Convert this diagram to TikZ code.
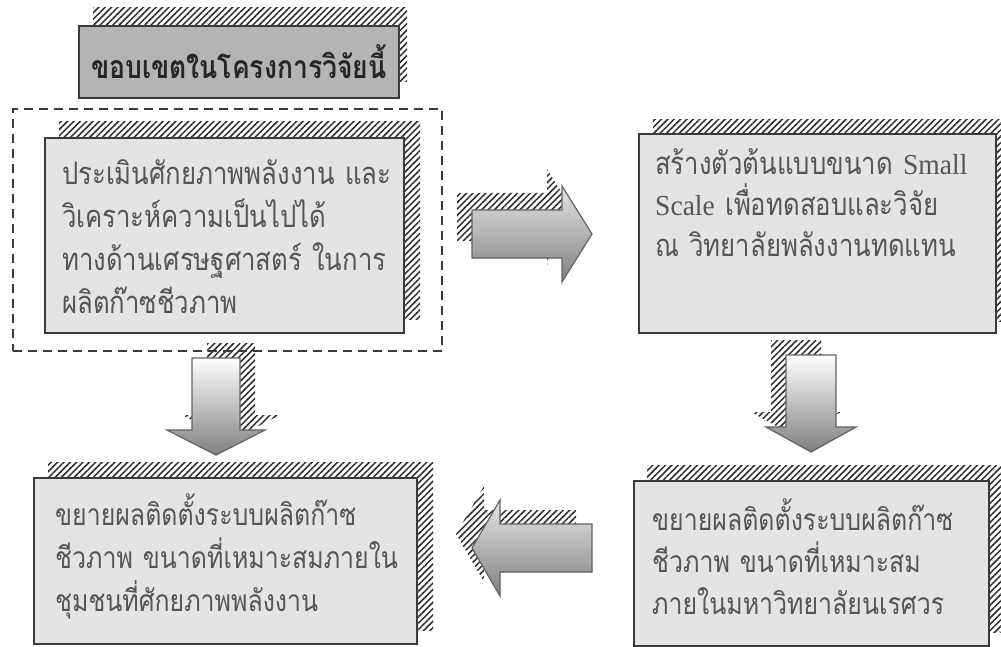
\documentclass[tikz,border=0pt]{standalone}
\usepackage{fontspec}
\newfontfamily\thaifont[Script=Thai,FakeStretch=0.83]{Loma}
\newfontfamily\latserif[FakeStretch=0.95]{Liberation Serif}
\usetikzlibrary{patterns.meta}
\pgfdeclarelayer{background}
\pgfsetlayers{background,main}
\definecolor{boxfill}{HTML}{E4E4E4}
\definecolor{titlefill}{HTML}{B4B4B4}
\definecolor{edge}{HTML}{3A3A3A}
\definecolor{txt}{HTML}{555555}
\definecolor{hatch}{HTML}{2A2A2A}
\begin{document}
\begin{tikzpicture}[x=1pt,y=-1pt,
  hatchfill/.style={pattern={Lines[angle=45,distance=4.5pt,line width=1.5pt]},pattern color=hatch},
  panel/.style={draw=edge,line width=2pt,fill=boxfill,anchor=north west,inner sep=0pt},
  paneltext/.style={anchor=base west,inner sep=0pt,text width=#1,align=left,text=txt},
  blockarrow/.style={draw=edge!80,line width=1.2pt,top color=black!10,bottom color=black!50},
  downarrow/.style={draw=edge!80,line width=1.2pt,top color=white,bottom color=black!50},
]
\useasboundingbox (0,0) rectangle (1001,647);

% title
\node[panel,fill=titlefill,minimum width=320pt,minimum height=72pt,
      font=\thaifont\bfseries\fontsize{32}{34}\selectfont,text=black!85] (title) at (78,25) {ขอบเขตในโครงการวิจัยนี้};

% scope (dashed)
\node[draw=edge,dash pattern=on 9pt off 6pt,line width=2pt,anchor=north west,
      minimum width=429pt,minimum height=242pt,inner sep=0pt] (scopebox) at (12,108) {};

% panels
\node[panel,minimum width=359pt,minimum height=195pt] (b1) at (44,137) {};
\node[panel,minimum width=357pt,minimum height=199pt] (b2) at (638,133) {};
\node[panel,minimum width=383pt,minimum height=166pt] (b3) at (33,477) {};
\node[panel,minimum width=355pt,minimum height=165pt] (b4) at (633,480) {};

% texts
\node[paneltext=340pt,font=\thaifont\fontsize{31}{43}\selectfont] (t1) at (62,185)
  {ประเมินศักยภาพพลังงาน และ\\วิเคราะห์ความเป็นไปได้\\ทางด้านเศรษฐศาสตร์ ในการ\\ผลิตก๊าซชีวภาพ};
\node[paneltext=345pt,font=\thaifont\fontsize{31}{41}\selectfont] (t2) at (655,175)
  {สร้างตัวต้นแบบขนาด {\latserif\fontsize{29}{41}\selectfont Small}\\{\latserif\fontsize{29}{41}\selectfont Scale} เพื่อทดสอบและวิจัย\\ณ วิทยาลัยพลังงานทดแทน};
\node[paneltext=360pt,font=\thaifont\fontsize{30}{43}\selectfont] (t3) at (55,525)
  {ขยายผลติดตั้งระบบผลิตก๊าซ\\ชีวภาพ ขนาดที่เหมาะสมภายใน\\ชุมชนที่ศักยภาพพลังงาน};
\node[paneltext=330pt,font=\thaifont\fontsize{30}{42}\selectfont] (t4) at (652,530)
  {ขยายผลติดตั้งระบบผลิตก๊าซ\\ชีวภาพ ขนาดที่เหมาะสม\\ภายในมหาวิทยาลัยนเรศวร};

% arrow tails
\coordinate (ra) at (472,234);
\coordinate (la) at (592,548);
\coordinate (da1) at (216,358);
\coordinate (da2) at (811,355);

% block arrows
\path[blockarrow] (ra) ++(0,-24) -- ++(90,0) -- ++(0,-24) -- ++(30,48) -- ++(-30,48) -- ++(0,-24) -- ++(-90,0) -- cycle;
\path[blockarrow] (la) ++(0,-24) -- ++(-92,0) -- ++(0,-24) -- ++(-28,48) -- ++(28,48) -- ++(0,-24) -- ++(92,0) -- cycle;
\path[downarrow] (da1) ++(-24,0) -- ++(0,72) -- ++(-25,0) -- ++(49,25) -- ++(49,-25) -- ++(-25,0) -- ++(0,-72) -- cycle;
\path[downarrow] (da2) ++(-25,0) -- ++(0,72) -- ++(-20,0) -- ++(45,25) -- ++(45,-25) -- ++(-20,0) -- ++(0,-72) -- cycle;

% hatched shadows
\begin{pgfonlayer}{background}
\path[hatchfill] ([shift={(15,-17)}]title.south west) rectangle ([shift={(7,-17)}]title.north east);
\path[hatchfill] ([shift={(15,-15)}]b1.south west) rectangle ([shift={(15,-15)}]b1.north east);
\path[hatchfill] ([shift={(15,-13)}]b2.south west) rectangle ([shift={(15,-13)}]b2.north east);
\path[hatchfill] ([shift={(15,-15)}]b3.south west) rectangle ([shift={(15,-15)}]b3.north east);
\path[hatchfill] ([shift={(14,-15)}]b4.south west) rectangle ([shift={(14,-15)}]b4.north east);
\path[hatchfill] ([shift={(-15,-17)}]ra) ++(0,-24) -- ++(90,0) -- ++(0,-24) -- ++(30,48) -- ++(-30,48) -- ++(0,-24) -- ++(-90,0) -- cycle;
\path[hatchfill] ([shift={(-16,-14)}]la) ++(0,-24) -- ++(-92,0) -- ++(0,-24) -- ++(-28,48) -- ++(28,48) -- ++(0,-24) -- ++(92,0) -- cycle;
\path[hatchfill] ([shift={(15,-15)}]da1) ++(-24,0) -- ++(0,72) -- ++(-25,0) -- ++(49,25) -- ++(49,-25) -- ++(-25,0) -- ++(0,-72) -- cycle;
\path[hatchfill] ([shift={(-15,-15)}]da2) ++(-25,0) -- ++(0,72) -- ++(-20,0) -- ++(45,25) -- ++(45,-25) -- ++(-20,0) -- ++(0,-72) -- cycle;
\end{pgfonlayer}
\end{tikzpicture}
\end{document}
